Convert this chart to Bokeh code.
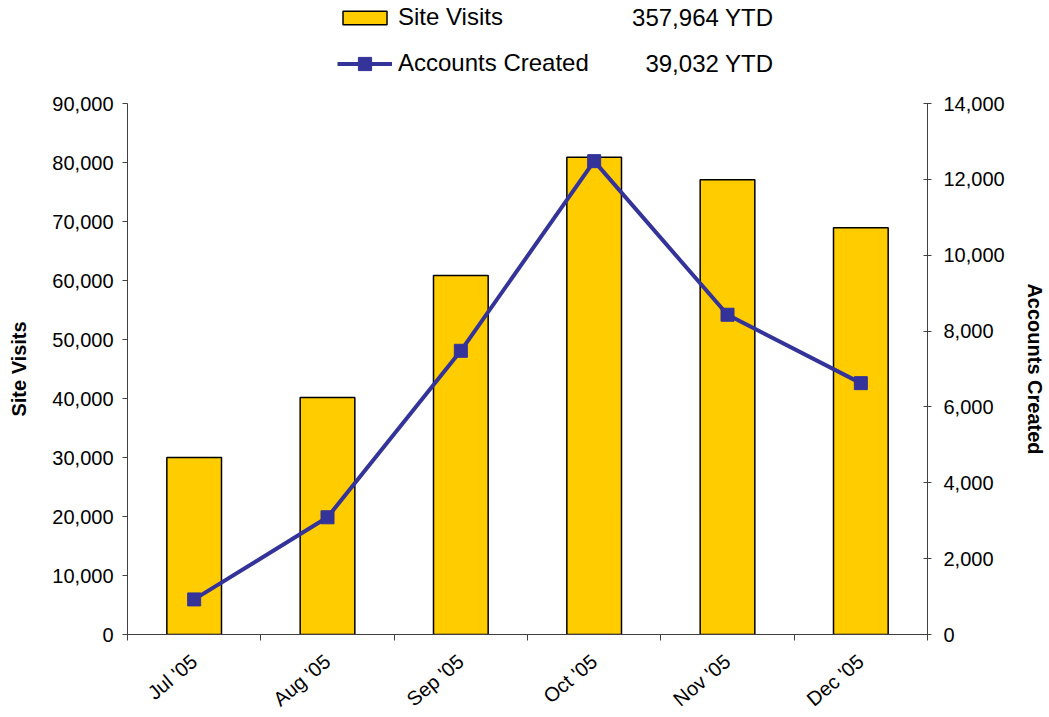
from bokeh.plotting import figure
from bokeh.layouts import column
from bokeh.models import (Range1d, LinearAxis, FixedTicker, NumeralTickFormatter,
                          Legend, LegendItem, Label, ColumnDataSource)
from bokeh.embed import file_html
from bokeh.resources import INLINE

months = ["Jul '05", "Aug '05", "Sep '05", "Oct '05", "Nov '05", "Dec '05"]
site_visits = [30020, 40180, 60850, 80900, 77080, 68934]
accounts_created = [925, 3090, 7480, 12480, 8430, 6627]
visits_ticks = [0, 10000, 20000, 30000, 40000, 50000, 60000, 70000, 80000, 90000]
accounts_ticks = [0, 2000, 4000, 6000, 8000, 10000, 12000, 14000]
legend_labels = ["Site Visits", "Accounts Created"]
ytd_texts = ["357,964 YTD", "39,032 YTD"]

FONT = "Liberation Sans"
BAR_FILL = "#FFCC00"
LINE_COL = "#333399"
AX = "#404040"
W = 1049
TOP_H = 87

xc = [i + 0.5 for i in range(len(months))]
src = ColumnDataSource(dict(x=xc, visits=site_visits, accounts=accounts_created))

# ---------------- main chart ----------------
p = figure(frame_width=800, frame_height=531, output_backend="svg", toolbar_location=None,
           x_range=Range1d(0, len(months)), y_range=Range1d(0, 90000),
           min_border_left=127, min_border_right=122, min_border_top=103 - TOP_H,
           min_border_bottom=10)
p.extra_y_ranges = {"acc": Range1d(0, 14000)}
p.outline_line_color = None
p.xgrid.visible = False
p.ygrid.visible = False

bar_kw = dict(width=0.41, fill_color=BAR_FILL, line_color="black", line_width=1.5)
line_kw = dict(line_color=LINE_COL, line_width=4)
mark_kw = dict(marker="square", size=13, fill_color=LINE_COL, line_color=LINE_COL)

p.vbar(x="x", top="visits", source=src, **bar_kw)
p.line(x="x", y="accounts", source=src, y_range_name="acc", **line_kw)
p.scatter(x="x", y="accounts", source=src, y_range_name="acc", **mark_kw)

# ---------------- legend strip (placeholder renderers holding no drawable point) ----------------
top = figure(width=W, height=TOP_H, output_backend="svg", toolbar_location=None,
             x_range=Range1d(0, 1), y_range=Range1d(0, 1),
             x_axis_location=None, y_axis_location=None, min_border=0)
top.outline_line_color = None
top.xgrid.visible = False
top.ygrid.visible = False
nan = float("nan")
leg_src = ColumnDataSource(dict(x=[nan], y=[nan]))
lb = top.vbar(x="x", top="y", source=leg_src, **bar_kw)
ll = top.line(x="x", y="y", source=leg_src, **line_kw)
lm = top.scatter(x="x", y="y", source=leg_src, **mark_kw)

common = dict(label_standoff=6, label_text_font=FONT, label_text_font_size="24px",
              label_text_color="black", padding=0, margin=0, border_line_color=None,
              background_fill_alpha=0, glyph_width=55)
# location = bottom-left corner, relative to the strip frame
leg1 = Legend(items=[LegendItem(label=legend_labels[0], renderers=[lb])],
              location=(210, TOP_H - 31), glyph_height=17, label_height=28, **common)
leg2 = Legend(items=[LegendItem(label=legend_labels[1], renderers=[ll, lm])],
              location=(210, TOP_H - 79.5), glyph_height=33, label_height=33, **common)
top.add_layout(leg1, "center")
top.add_layout(leg2, "center")
for t, yy in zip(ytd_texts, [TOP_H - 17, TOP_H - 63]):
    top.add_layout(Label(x=646, y=yy, x_units="screen", y_units="screen", text=t,
                         text_align="right", text_baseline="middle",
                         text_font=FONT, text_font_size="24px", text_color="black"))

# x axis
xa = p.xaxis[0]
xa.ticker = FixedTicker(ticks=xc, minor_ticks=list(range(len(months) + 1)))
xa.major_label_overrides = {x: m for x, m in zip(xc, months)}
xa.major_tick_out = 0
xa.major_tick_in = 0
xa.minor_tick_out = 6
xa.minor_tick_in = 0
xa.minor_tick_line_color = AX
xa.axis_line_color = AX
xa.major_label_orientation = 0.70
xa.major_label_standoff = 18
xa.major_label_text_font = FONT
xa.major_label_text_font_size = "20px"
xa.major_label_text_color = "black"

# left axis
ya = p.yaxis[0]
ya.ticker = FixedTicker(ticks=visits_ticks)
ya.formatter = NumeralTickFormatter(format="0,0")
ya.major_tick_out = 5
ya.major_tick_in = 0
ya.minor_tick_out = 0
ya.minor_tick_in = 0
ya.axis_line_color = AX
ya.major_tick_line_color = AX
ya.major_label_standoff = 9
ya.major_label_text_font = FONT
ya.major_label_text_font_size = "20px"
ya.major_label_text_color = "black"
ya.axis_label = "Site Visits"
ya.axis_label_text_font = FONT
ya.axis_label_text_font_style = "bold"
ya.axis_label_text_font_size = "20px"
ya.axis_label_text_color = "black"
ya.axis_label_standoff = 19

# right axis
ra = LinearAxis(y_range_name="acc", ticker=FixedTicker(ticks=accounts_ticks),
                formatter=NumeralTickFormatter(format="0,0"))
ra.major_tick_out = 4
ra.major_tick_in = 4
ra.minor_tick_out = 0
ra.minor_tick_in = 0
ra.axis_line_color = AX
ra.major_tick_line_color = AX
ra.major_label_standoff = 12
ra.major_label_text_font = FONT
ra.major_label_text_font_size = "20px"
ra.major_label_text_color = "black"
ra.axis_label = "Accounts Created"
ra.axis_label_text_font = FONT
ra.axis_label_text_font_style = "bold"
ra.axis_label_text_font_size = "20px"
ra.axis_label_text_color = "black"
ra.axis_label_standoff = 16
p.add_layout(ra, "right")

layout = column(top, p, spacing=0)
open("out.html", "w").write(file_html(layout, INLINE))
